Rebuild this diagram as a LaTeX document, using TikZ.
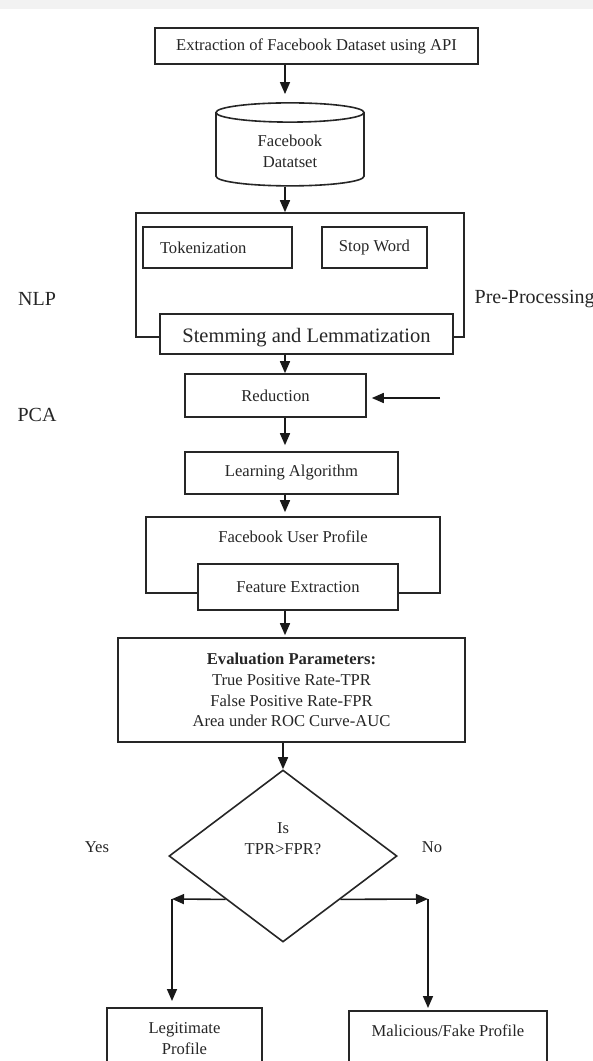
\documentclass[tikz,border=0pt]{standalone}
\usepackage{fontspec}
\setmainfont{Liberation Serif}
\usepackage{tikz}
\usetikzlibrary{
  arrows.meta,
  calc,
  positioning,
  shapes.geometric
}
\newcommand{\txtnorm}{\fontsize{16.6}{20.7}\selectfont}
\newcommand{\txtbig}{\fontsize{20.5}{24}\selectfont}
\tikzset{
  line cap=round,
  line join=round,
  every picture/.style={line width=1.6pt},
  box/.style={draw=black!85, fill=white, text=black!85, align=center, font=\txtnorm},
  frame/.style={draw=black!85},
  arrow/.style={-{Triangle[length=12pt,width=10pt]}, draw=black!90},
  sidelabel/.style={text=black!85, font=\fontsize{20}{24}\selectfont},
  plainlabel/.style={text=black!85, font=\txtnorm, align=center}
}

\begin{document}
\begin{tikzpicture}[x=1pt,y=-1pt]
  \useasboundingbox (0,0) rectangle (593,1061);
  \clip (0,0) rectangle (593,1061);
  \fill[black!5] (0,0) rectangle (593,9);

  \coordinate (spine) at (285,0);

  \node[box, minimum width=323pt, minimum height=36pt] (extract) at (316.5,46) {Extraction of Facebook Dataset using API};
  \node[box, cylinder, shape border rotate=90, aspect=0.27, minimum width=148pt, minimum height=83pt] (data) at (290,151) {Facebook\\Datatset};

  % pre-processing block
  \node[frame, minimum width=328pt, minimum height=124pt] (prep) at (300,275) {};
  \node[box, minimum width=149pt, minimum height=41pt, text width=115pt, inner xsep=17pt, align=left] (tok) at (217.5,247.5) {Tokenization};
  \node[box, minimum width=105pt, minimum height=41pt] (stop) at (374.5,247.5) {Stop Word};
  \node[box, font=\txtbig, minimum width=293pt, minimum height=40pt, text height=17pt, text depth=1pt] (stem) at (306.5,334) {Stemming and Lemmatization};

  \node[sidelabel] (nlp) at (37,299) {NLP};
  \node[sidelabel, anchor=west] (preplbl) at (470.5,299) {Pre-Processing};
  \node[sidelabel] (pca) at (37,415) {PCA};

  \node[box, minimum width=181pt, minimum height=43pt] (reduce) at (275.5,395.5) {Reduction};
  \coordinate (pcain) at (440,398);
  \node[box, minimum width=213pt, minimum height=42pt] (learn) at (291.5,473) {Learning Algorithm};

  % user profile block
  \node[frame, minimum width=294pt, minimum height=76pt] (profile) at (293,555) {};
  \node[plainlabel] (profiletxt) at (293,537) {Facebook User Profile};
  \node[box, minimum width=200pt, minimum height=46pt] (feat) at (298,587) {Feature Extraction};

  \node[box, minimum width=347pt, minimum height=104pt] (eval) at (291.5,690) {\textbf{Evaluation Parameters:}\\True Positive Rate-TPR\\False Positive Rate-FPR\\Area under ROC Curve-AUC};

  % decision
  \node[box, diamond, minimum width=228pt, minimum height=172pt, inner sep=0pt] (dec) at (283,856) {};
  \node[plainlabel] (dectxt) at (283,839) {Is\\TPR>FPR?};
  \node[plainlabel] (yes) at (97,847) {Yes};
  \node[plainlabel] (no) at (432,847) {No};
  \coordinate (yesturn) at (172,899);
  \coordinate (noturn) at (428,899);

  \node[box, anchor=north, minimum width=155pt, minimum height=62pt] (legit) at (184.5,1007) {Legitimate\\Profile};
  \node[box, anchor=north, minimum width=198pt, text height=22pt, text depth=30pt] (mal) at (448,1010) {Malicious/Fake Profile};

  % connectors
  \draw[arrow, shorten >=8pt] (extract.south -| spine) -- (data.north -| spine);
  \draw[arrow] (data.south -| spine) -- (prep.north -| spine);
  \draw[arrow] (stem.south -| spine) -- (reduce.north -| spine);
  \draw[arrow, shorten >=6pt] (reduce.south -| spine) -- (learn.north -| spine);
  \draw[arrow, shorten >=4pt] (learn.south -| spine) -- (profile.north -| spine);
  \draw[arrow, shorten >=2pt] (feat.south -| spine) -- (eval.north -| spine);
  \draw[arrow] (eval.south -| dec) -- (dec.north);
  \draw[arrow, shorten >=5pt] (pcain) -- (reduce.east |- pcain);
  \draw[arrow] ($(dec.west)!.5!(dec.south)$) -- (yesturn);
  \draw[arrow, shorten >=6pt] (yesturn) -- (legit.north -| yesturn);
  \draw[arrow] ($(dec.east)!.5!(dec.south)$) -- (noturn);
  \draw[arrow, shorten >=2pt] (noturn) -- (mal.north -| noturn);
\end{tikzpicture}
\end{document}
